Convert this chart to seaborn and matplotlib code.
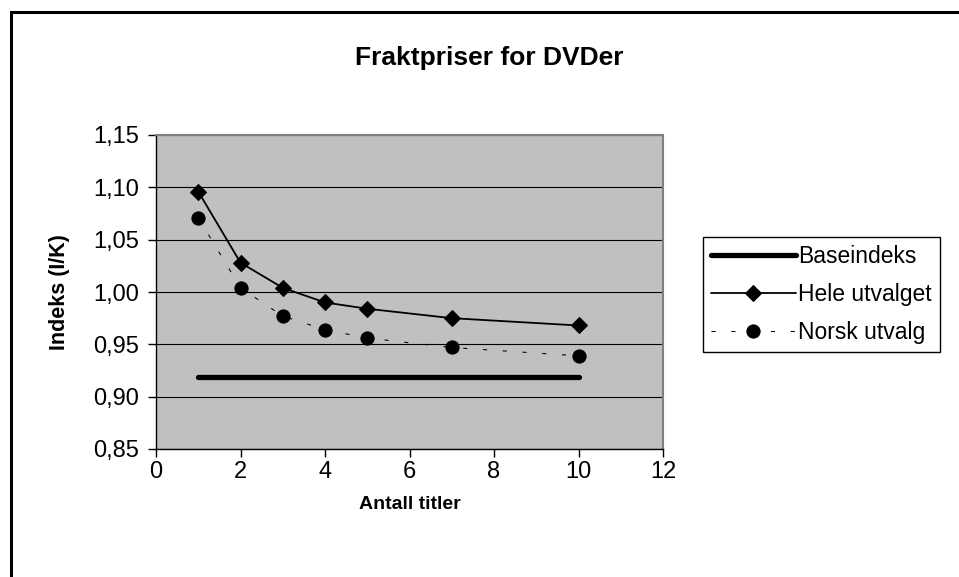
import matplotlib
matplotlib.use("Agg")
import matplotlib.pyplot as plt
import matplotlib.patches as mpatches
from matplotlib.ticker import FuncFormatter, MultipleLocator
import seaborn as sns
import pandas as pd

# ---- data ----
titles = [1, 2, 3, 4, 5, 7, 10]
hele_utvalget = [1.096, 1.028, 1.004, 0.990, 0.984, 0.975, 0.968]
norsk_utvalg = [1.071, 1.004, 0.977, 0.964, 0.956, 0.947, 0.939]
base_x = [1, 10]
baseindeks = [0.919, 0.919]

title = "Fraktpriser for DVDer"
xlabel = "Antall titler"
ylabel = "Indeks (I/K)"
series_names = ["Baseindeks", "Hele utvalget", "Norsk utvalg"]

sns.set_theme(style="white")
plt.rcParams["font.family"] = ["Liberation Sans", "DejaVu Sans"]
plt.rcParams["text.color"] = "black"
plt.rcParams["axes.labelcolor"] = "black"
plt.rcParams["xtick.color"] = "black"
plt.rcParams["ytick.color"] = "black"

W, H = 959, 577
fig = plt.figure(figsize=(W / 100, H / 100), dpi=100)
fig.patch.set_facecolor("white")

# outer chart border (left/top visible)
border = mpatches.Rectangle((10.5 / W, -0.2), 1.2, 1 - 12 / H + 0.2,
                            transform=fig.transFigure, fill=False,
                            edgecolor="black", linewidth=2.2, clip_on=False)
fig.patches.append(border)

L, R, T, B = 156, 663, 135, 449
ax = fig.add_axes([L / W, 1 - B / H, (R - L) / W, (B - T) / H])
ax.set_facecolor("#C0C0C0")

df_base = pd.DataFrame({"x": base_x, "y": baseindeks})
df_hele = pd.DataFrame({"x": titles, "y": hele_utvalget})
df_norsk = pd.DataFrame({"x": titles, "y": norsk_utvalg})

sns.lineplot(data=df_base, x="x", y="y", ax=ax, color="black", linewidth=3.8,
             solid_capstyle="round", label=series_names[0], zorder=3)
sns.lineplot(data=df_hele, x="x", y="y", ax=ax, color="black", linewidth=1.3,
             marker="D", markersize=8.5, markeredgecolor="black",
             markerfacecolor="black", label=series_names[1], zorder=4)
sns.lineplot(data=df_norsk, x="x", y="y", ax=ax, color="black", linewidth=0.75,
             marker="o", markersize=9.5, markeredgecolor="black",
             markerfacecolor="black", dashes=False, label=series_names[2], zorder=4)
ax.lines[2].set_dashes((4, 15))

ax.set_xlim(0, 12)
ax.set_ylim(0.85, 1.15)
ax.xaxis.set_major_locator(MultipleLocator(2))
ax.yaxis.set_major_locator(MultipleLocator(0.05))
ax.yaxis.set_major_formatter(FuncFormatter(lambda v, p: f"{v:.2f}".replace(".", ",")))
ax.xaxis.set_major_formatter(FuncFormatter(lambda v, p: f"{int(round(v))}"))

ax.grid(True, axis="y", color="black", linewidth=0.8)
ax.grid(False, axis="x")
ax.set_axisbelow(True)

for s in ["top", "right"]:
    ax.spines[s].set_color("#808080")
    ax.spines[s].set_linewidth(1.5)
for s in ["left", "bottom"]:
    ax.spines[s].set_color("black")
    ax.spines[s].set_linewidth(1.0)

ax.tick_params(axis="both", direction="out", length=6, width=1, color="black",
               labelsize=17, labelcolor="black", bottom=True, left=True)
ax.tick_params(axis="x", pad=3)
ax.tick_params(axis="y", pad=6)

ax.set_xlabel(xlabel, fontsize=14, fontweight="bold", labelpad=9)
ax.set_ylabel(ylabel, fontsize=15.5, fontweight="bold", labelpad=17)

fig.text(489 / W, 1 - 58 / H, title, ha="center", va="center",
         fontsize=19, fontweight="bold")

leg = ax.legend(loc="upper left", bbox_to_anchor=(703 / W, 1 - 237 / H),
                bbox_transform=fig.transFigure, fontsize=16.5, frameon=True,
                fancybox=False, edgecolor="black", framealpha=1,
                handlelength=3.7, handletextpad=0.1, borderpad=0.35,
                labelspacing=0.66, borderaxespad=0)
leg.get_frame().set_linewidth(1.0)
leg.get_frame().set_facecolor("white")

fig.savefig("out.png", dpi=100)
